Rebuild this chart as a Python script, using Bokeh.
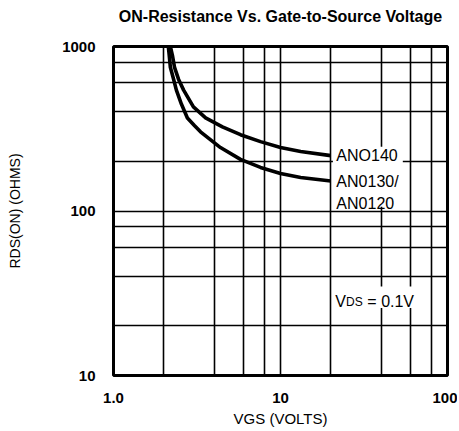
from bokeh.plotting import figure
from bokeh.models import Range1d, FixedTicker, LogAxis
from bokeh.models import Label
from bokeh.embed import file_html
from bokeh.resources import INLINE

# ---- data ----
vgs_an0140 = [2.19, 2.26, 2.32, 2.45, 2.63, 3.01, 3.56, 4.49, 5.76, 7.59, 10.0, 13.2, 20.0]
rds_an0140 = [1000, 870, 747, 633, 543, 429, 368, 325, 291, 264, 243, 230, 217]

vgs_an0130 = [2.13, 2.16, 2.19, 2.29, 2.38, 2.55, 2.77, 3.06, 3.32, 4.37, 5.76, 7.59, 10.0, 13.2, 20.0]
rds_an0130 = [1000, 870, 747, 633, 543, 447, 368, 330, 303, 243, 206, 184, 169, 160, 152]

x_major = [1, 10, 100]
x_major_labels = {1: "1.0", 10: "10", 100: "100"}
y_major = [10, 100, 1000]
y_major_labels = {10: "10", 100: "100", 1000: "1000"}
x_grid = [2, 4, 6, 8, 10, 20, 40, 60, 80]
y_grid = [20, 40, 60, 80, 100, 200, 400, 600, 800]

TITLE = "ON-Resistance Vs. Gate-to-Source Voltage"
FONT = "Liberation Sans"

p = figure(width=457, height=429, x_axis_type="log", y_axis_type="log",
           x_range=Range1d(1, 100), y_range=Range1d(10, 1000),
           output_backend="svg", toolbar_location=None,
           min_border_left=113, min_border_right=10,
           min_border_top=46, min_border_bottom=51)
p.background_fill_color = "white"
p.border_fill_color = "white"
p.outline_line_color = "black"
p.outline_line_width = 3

for ax, ticks, labels in ((p.xaxis, x_major, x_major_labels), (p.yaxis, y_major, y_major_labels)):
    ax.ticker = FixedTicker(ticks=ticks)
    ax.major_label_overrides = labels
    ax.axis_line_color = None
    ax.major_tick_line_color = None
    ax.minor_tick_line_color = None
    ax.major_label_text_font = FONT
    ax.major_label_text_font_size = "15px"
    ax.major_label_text_font_style = "bold"
    ax.major_label_text_color = "black"
    ax.axis_label_text_font = FONT
    ax.axis_label_text_font_style = "normal"
    ax.axis_label_text_color = "black"

p.xaxis.major_label_standoff = 11
p.xaxis.axis_label = "VGS (VOLTS)"
p.xaxis.axis_label_text_font_size = "15px"
p.xaxis.axis_label_standoff = 4

p.yaxis.major_label_standoff = 12
p.yaxis.axis_label = "RDS(ON) (OHMS)"
p.yaxis.axis_label_text_font_size = "14px"
p.yaxis.axis_label_standoff = 36

# title drawn as the label of a tick-less axis above the frame
top_axis = LogAxis(ticker=FixedTicker(ticks=[]), axis_label=TITLE,
                   axis_line_color=None, major_tick_line_color=None, minor_tick_line_color=None,
                   major_label_text_font_size="0px", major_label_standoff=0,
                   major_tick_out=0, minor_tick_out=0,
                   axis_label_standoff=22, axis_label_text_font=FONT,
                   axis_label_text_font_size="16px", axis_label_text_font_style="bold",
                   axis_label_text_color="black")
p.add_layout(top_axis, "above")

p.xgrid.ticker = FixedTicker(ticks=x_grid)
p.ygrid.ticker = FixedTicker(ticks=y_grid)
for g in (p.xgrid, p.ygrid):
    g.grid_line_color = "black"
    g.grid_line_width = 1.6
    g.grid_line_alpha = 1.0

# white label backgrounds that interrupt the grid (as in the reference)
p.quad(left=[20.6, 20.6], right=[54, 64], bottom=[106, 25.7], top=[246, 34.8],
       fill_color="white", line_color=None)

p.line(vgs_an0140, rds_an0140, line_color="black", line_width=3.6, line_join="round")
p.line(vgs_an0130, rds_an0130, line_color="black", line_width=3.6, line_join="round")

def lab(**kw):
    base = dict(text_font=FONT, text_color="black")
    base.update(kw)
    p.add_layout(Label(**base))

# curve labels
lab(x=21.6, y=217.5, text="ANO140", text_baseline="middle", text_font_size="16px")
lab(x=21.6, y=151.6, text="AN0130/", text_baseline="middle", text_font_size="16px")
lab(x=21.6, y=111.7, text="AN0120", text_baseline="middle", text_font_size="16px")

# V_DS = 0.1V
lab(x=21.3, y=28.1, text="V", text_align="left", text_baseline="alphabetic", text_font_size="16px")
lab(x=21.3, y=28.1, x_offset=10.7, text="DS", text_align="left", text_baseline="alphabetic", text_font_size="12px")
lab(x=21.3, y=28.1, x_offset=32, text="= 0.1V", text_align="left", text_baseline="alphabetic", text_font_size="16px")

open("out.html", "w").write(file_html(p, INLINE))
